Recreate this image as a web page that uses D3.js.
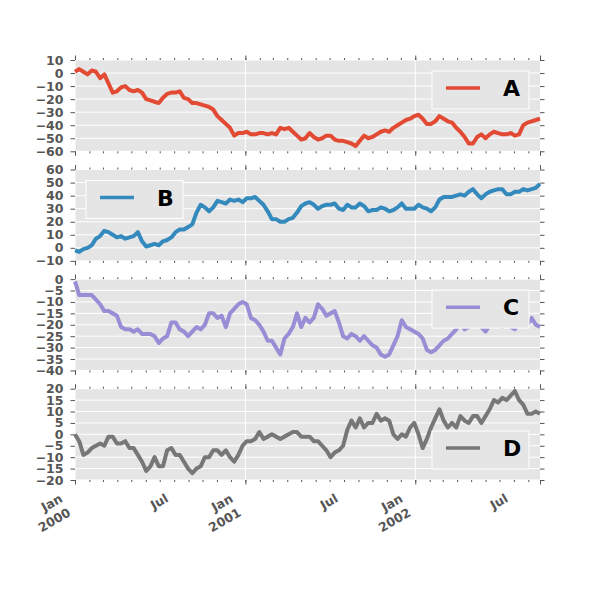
<!DOCTYPE html>
<html>
<head>
<meta charset="utf-8">
<script src="https://d3js.org/d3.v7.min.js"></script>
<style>
  body { margin: 0; background: #fff; }
  text { font-family: "DejaVu Sans", sans-serif; }
</style>
</head>
<body>
<div id="chart"></div>
<script>
// Four cumulative random walks, one per panel (one value every 9 days)
const START = new Date(Date.UTC(2000, 0, 1));
const DAY_STEP = 9;

const SERIES_NAMES = ["A", "B", "C", "D"];
const COLORS = ["#E24A33", "#348ABD", "#988ED5", "#777777"];

const SERIES_A = [
  1, 3, 1, -1, 2, 1, -4, -1, -8, -15,
  -14, -11, -10, -13, -14, -13, -15, -20, -21, -22,
  -23, -19, -16, -15, -15, -14, -19, -20, -23, -23,
  -24, -25, -26, -28, -33, -36, -39, -42, -48, -46,
  -46, -45, -47, -47, -46, -46, -47, -46, -47, -42,
  -43, -42, -45, -48, -51, -50, -46, -49, -51, -50,
  -48, -48, -51, -52, -52, -53, -54, -56, -52, -48,
  -50, -49, -47, -45, -44, -45, -42, -40, -38, -36,
  -35, -33, -32, -35, -39, -39, -37, -33, -35, -37,
  -38, -42, -45, -49, -54, -54, -49, -47, -50, -47,
  -45, -46, -47, -47, -46, -48, -47, -40, -38, -37,
  -36, -35
];
const SERIES_B = [
  -2, -3, -1, 0, 2, 7, 9, 13, 12, 10,
  8, 9, 7, 8, 9, 12, 5, 1, 2, 3,
  2, 5, 6, 8, 12, 14, 14, 16, 18, 27,
  33, 31, 28, 31, 36, 35, 34, 37, 36, 37,
  35, 38, 38, 39, 36, 33, 28, 22, 22, 20,
  20, 22, 23, 27, 32, 34, 35, 33, 30, 32,
  33, 33, 34, 30, 29, 33, 31, 31, 34, 32,
  28, 29, 29, 31, 30, 28, 29, 31, 34, 30,
  30, 30, 33, 31, 30, 28, 31, 37, 39, 39,
  39, 40, 41, 40, 43, 45, 41, 38, 41, 43,
  44, 45, 45, 41, 41, 43, 43, 45, 44, 45,
  46, 49
];
const SERIES_C = [
  -1, -7, -7, -7, -7, -9, -11, -14, -14, -15,
  -16, -21, -22, -22, -23, -22, -24, -24, -24, -25,
  -28, -26, -25, -19, -19, -22, -23, -25, -23, -21,
  -22, -20, -15, -15, -17, -16, -21, -15, -13, -11,
  -10, -11, -17, -18, -20, -23, -27, -27, -30, -33,
  -26, -24, -21, -15, -21, -17, -19, -17, -11, -13,
  -16, -15, -14, -19, -25, -26, -24, -25, -27, -25,
  -27, -29, -30, -33, -34, -33, -29, -25, -18, -21,
  -22, -23, -24, -26, -31, -32, -31, -29, -27, -26,
  -24, -22, -19, -22, -21, -20, -19, -21, -23, -20,
  -18, -19, -21, -20, -21, -22, -18, -19, -20, -17,
  -20, -21
];
const SERIES_D = [
  0, -3, -9, -8, -6, -5, -4, -5, -1, -1,
  -4, -4, -3, -6, -6, -9, -12, -16, -14, -10,
  -14, -14, -7, -6, -9, -9, -12, -15, -17, -15,
  -14, -10, -10, -7, -7, -9, -7, -10, -12, -9,
  -5, -3, -3, -2, 1, -2, -1, 0, -1, -2,
  -1, 0, 1, 1, -1, -1, -1, -3, -3, -5,
  -7, -10, -8, -7, -5, 2, 6, 3, 7, 3,
  5, 5, 9, 6, 7, 6, 0, -2, 0, -1,
  3, 5, 0, -6, -2, 3, 7, 11, 6, 3,
  5, 3, 8, 6, 5, 8, 8, 5, 8, 11,
  15, 14, 16, 15, 17, 19, 15, 13, 9, 9,
  10, 9
];
const SERIES = [SERIES_A, SERIES_B, SERIES_C, SERIES_D];

// y domains and tick values of each panel
const Y_DOMAINS = [[-60, 10], [-10, 60], [-40, 0], [-20, 20]];
const Y_TICKS = [
  d3.range(-60, 11, 10),
  d3.range(-10, 61, 10),
  d3.range(-40, 1, 5),
  d3.range(-20, 21, 5)
];
// legend corner per panel
const LEGEND_LOC = ["upper right", "upper left", "upper right", "lower right"];

const dates = SERIES_A.map((_, i) => d3.utcDay.offset(START, i * DAY_STEP));

// Layout, matplotlib subplot convention
const W = 600, H = 600;
const plotLeft = 75, plotRight = 540, plotTop = 60, plotBottom = 480;
const panelH = (plotBottom - plotTop) / (4 + 0.2 * 3);
const gap = panelH * 0.2;
const TICK_COLOR = "#555555";
const MAJOR_LEN = 4.5, MINOR_LEN = 2;

const svg = d3.select("#chart")
  .append("svg")
    .attr("width", W)
    .attr("height", H);

svg.append("rect")
  .attr("width", W)
  .attr("height", H)
  .attr("fill", "#fff");

const xScale = d3.scaleUtc()
  .domain([dates[0], dates[dates.length - 1]])
  .range([plotLeft, plotRight]);

const months = d3.utcMonth.range(dates[0], dates[dates.length - 1]);
const years = months.filter(d => d.getUTCMonth() === 0);
const majorTicks = years.concat([dates[dates.length - 1]]);
const labelTicks = months.filter(d => d.getUTCMonth() === 0 || d.getUTCMonth() === 6);

SERIES.forEach((values, k) => {
  const y0 = plotTop + k * (panelH + gap);
  const y1 = y0 + panelH;

  const yScale = d3.scaleLinear()
    .domain(Y_DOMAINS[k])
    .range([y1, y0]);

  const g = svg.append("g");

  // Background
  g.append("rect")
    .attr("x", plotLeft)
    .attr("y", y0)
    .attr("width", plotRight - plotLeft)
    .attr("height", panelH)
    .attr("fill", "#E5E5E5");

  // Grid
  g.selectAll(".hgrid")
    .data(Y_TICKS[k])
    .join("line")
      .attr("x1", plotLeft)
      .attr("x2", plotRight)
      .attr("y1", d => yScale(d))
      .attr("y2", d => yScale(d))
      .attr("stroke", "#fff")
      .attr("stroke-width", 1);
  g.selectAll(".vgrid")
    .data(years)
    .join("line")
      .attr("x1", d => xScale(d))
      .attr("x2", d => xScale(d))
      .attr("y1", y0)
      .attr("y2", y1)
      .attr("stroke", "#fff")
      .attr("stroke-width", 1);

  // Y axes, left with labels, right ticks only
  const yLeft = g.append("g")
    .attr("transform", "translate(" + plotLeft + ",0)")
    .call(d3.axisLeft(yScale).tickValues(Y_TICKS[k]).tickSize(MAJOR_LEN).tickPadding(7));
  const yRight = g.append("g")
    .attr("transform", "translate(" + plotRight + ",0)")
    .call(d3.axisRight(yScale).tickValues(Y_TICKS[k]).tickSize(MAJOR_LEN).tickFormat(""));

  // X axes, minor (months) and major (years), top and bottom
  const xb = g.append("g")
    .attr("transform", "translate(0," + y1 + ")")
    .call(d3.axisBottom(xScale).tickValues(months).tickSize(MINOR_LEN).tickFormat(""));
  const xbMaj = g.append("g")
    .attr("transform", "translate(0," + y1 + ")")
    .call(d3.axisBottom(xScale).tickValues(majorTicks).tickSize(MAJOR_LEN).tickFormat(""));
  const xt = g.append("g")
    .attr("transform", "translate(0," + y0 + ")")
    .call(d3.axisTop(xScale).tickValues(months).tickSize(MINOR_LEN).tickFormat(""));
  const xtMaj = g.append("g")
    .attr("transform", "translate(0," + y0 + ")")
    .call(d3.axisTop(xScale).tickValues(majorTicks).tickSize(MAJOR_LEN).tickFormat(""));

  [yLeft, yRight, xb, xbMaj, xt, xtMaj].forEach(ax => {
    ax.select(".domain").remove();
    ax.selectAll("line").attr("stroke", TICK_COLOR);
  });
  yLeft.selectAll("text")
    .attr("fill", TICK_COLOR)
    .style("font-size", "12.5px")
    .style("font-weight", "bold")
    .style("font-family", "DejaVu Sans");

  // The series
  const line = d3.line()
    .x((d, i) => xScale(dates[i]))
    .y(d => yScale(d));
  g.append("path")
    .attr("d", line(values))
    .attr("fill", "none")
    .attr("stroke", COLORS[k])
    .attr("stroke-width", 4)
    .attr("stroke-linejoin", "round");

  // Legend (drawn over the line, like matplotlib)
  const lw = 97, lh = 38;
  const loc = LEGEND_LOC[k];
  const lx = loc.endsWith("left") ? plotLeft + 11 : plotRight - 11 - lw;
  const ly = loc.startsWith("upper") ? y0 + 11 : y1 - 11 - lh;
  const leg = g.append("g")
    .attr("transform", "translate(" + lx + "," + ly + ")");
  leg.append("rect")
    .attr("width", lw)
    .attr("height", lh)
    .attr("fill", "#E5E5E5")
    .attr("stroke", "#fff")
    .attr("stroke-width", 1);
  leg.append("line")
    .attr("x1", 14)
    .attr("x2", 48)
    .attr("y1", 17)
    .attr("y2", 17)
    .attr("stroke", COLORS[k])
    .attr("stroke-width", 3.5);
  leg.append("text")
    .attr("x", 71)
    .attr("y", 25)
    .style("font-size", "22px")
    .style("font-weight", "bold")
    .attr("fill", "#000")
    .text(SERIES_NAMES[k]);

  // Date labels under the last panel only.
  // Jan (year) labels are right aligned, Jul labels centred, both turned 30 degrees.
  if (k === SERIES.length - 1) {
    const fs = 12.5, lineH = fs * 1.3, labelTop = y1 + 11;
    labelTicks.forEach(d => {
      const isJan = d.getUTCMonth() === 0;
      const lines = isJan ? ["Jan", String(d.getUTCFullYear())] : ["Jul"];
      const h = lines.length * lineH;
      const holder = g.append("g");
      const t = holder.append("text")
        .attr("text-anchor", isJan ? "end" : "middle")
        .attr("fill", TICK_COLOR)
        .style("font-size", fs + "px")
        .style("font-weight", "bold");
      lines.forEach((s, j) => {
        t.append("tspan")
          .attr("x", 0)
          .attr("y", 11.5 + j * lineH)
          .text(s);
      });
      if (isJan) {
        holder.attr("transform", "translate(" + (xScale(d) - h / 2 - 1) + "," + labelTop + ") rotate(-30)");
      } else {
        const w = t.node().getComputedTextLength();
        holder.attr("transform", "translate(" + (xScale(d) - h / 4) + "," + (labelTop + w / 4) + ") rotate(-30)");
      }
    });
  }
});
</script>
</body>
</html>
